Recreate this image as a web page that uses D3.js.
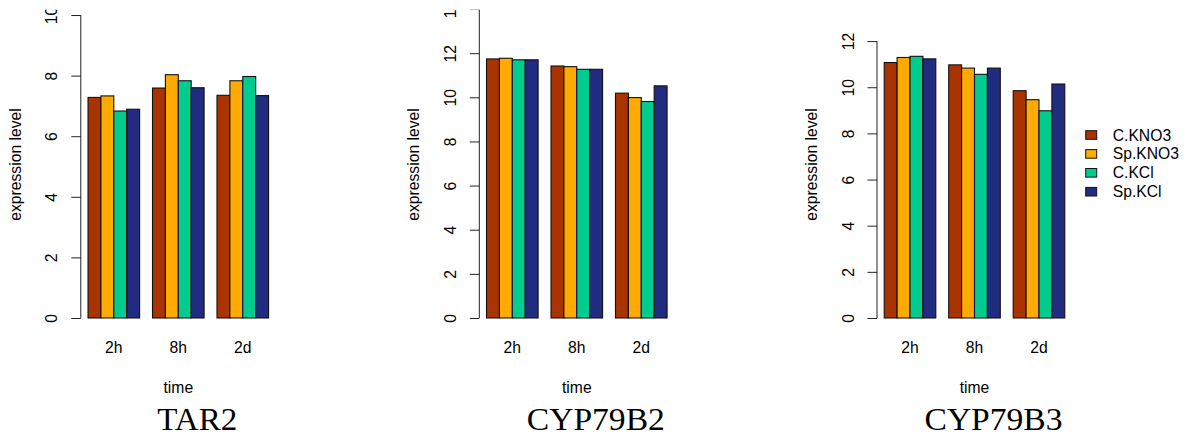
<!DOCTYPE html>
<html>
<head>
<meta charset="utf-8">
<script src="https://cdn.jsdelivr.net/npm/d3@7"></script>
<style>
  body { margin: 0; background: #fff; }
  text { font-family: "Liberation Sans", Arial, sans-serif; fill: #000; }
  .title { font-family: "Liberation Serif", "Times New Roman", serif; }
</style>
</head>
<body>
<div id="chart"></div>
<script>
// data
var genes = ["TAR2", "CYP79B2", "CYP79B3"];
var times = ["2h", "8h", "2d"];
var conditions = ["C.KNO3", "Sp.KNO3", "C.KCl", "Sp.KCl"];
var colors = ["#a93400", "#ffaa00", "#00cc8f", "#212b80"];

// one row per time point, one value per condition
var tar2 = [[7.28, 7.33, 6.83, 6.89], [7.59, 8.03, 7.83, 7.60], [7.35, 7.83, 7.97, 7.34]];
var cyp79b2 = [[11.74, 11.77, 11.70, 11.70], [11.42, 11.39, 11.27, 11.27], [10.19, 9.99, 9.81, 10.52]];
var cyp79b3 = [[11.07, 11.29, 11.34, 11.23], [10.97, 10.83, 10.56, 10.83], [9.85, 9.46, 8.98, 10.14]];
var yLimits = [10, 13.73, 13.13];

var geneValues = [tar2, cyp79b2, cyp79b3];

//Setup chart area
var svgWidth = 1187;
var svgHeight = 441;
var plotLefts = [80.8, 479.3, 877.0];
var plotWidth = 195;
var plotTop = 2.9;
var plotBottom = 330.1;
var fontSize = 15.7;

var svg = d3.select("#chart")
  .append("svg")
  .attr("width", svgWidth)
  .attr("height", svgHeight);

// labels get cut at the top of the figure region
svg.append("defs")
  .append("clipPath")
  .attr("id", "figClip")
  .append("rect")
  .attr("x", 0)
  .attr("y", 9.8)
  .attr("width", svgWidth)
  .attr("height", svgHeight);

genes.forEach(function(gene, p) {
  var left = plotLefts[p];
  var M = yLimits[p];
  var data = geneValues[p];

  var g = svg.append("g");

  // x scales: groups then bars inside a group (like barplot beside=TRUE)
  var x0 = d3.scaleBand()
    .domain(times)
    .range([left, left + plotWidth])
    .paddingInner(0.2)
    .paddingOuter(0.112);

  var x1 = d3.scaleBand()
    .domain(conditions)
    .range([0, x0.bandwidth()]);

  // y scale with R's 4% extension
  var y = d3.scaleLinear()
    .domain([-0.04 * M, 1.04 * M])
    .range([plotBottom, plotTop]);

  var yTicks = d3.range(0, 1.04 * M + 1e-9, 2);

  // bars
  var groups = g.selectAll(".grp")
    .data(data)
    .enter()
    .append("g")
    .attr("transform", (d, i) => `translate(${x0(times[i])},0)`);

  groups.selectAll("rect")
    .data(d => d)
    .enter()
    .append("rect")
    .attr("x", (d, i) => x1(conditions[i]))
    .attr("y", d => y(d))
    .attr("width", x1.bandwidth())
    .attr("height", d => y(0) - y(d))
    .attr("fill", (d, i) => colors[i])
    .attr("stroke", "#111")
    .attr("stroke-width", 1.1);

  // y axis (inside an untransformed clip group)
  var axisLeft = d3.axisLeft(y)
    .tickValues(yTicks)
    .tickSize(9.5)
    .tickFormat(d3.format("d"));

  var yAxis = g.append("g")
    .attr("clip-path", "url(#figClip)")
    .append("g")
    .attr("transform", `translate(${left},0)`)
    .call(axisLeft);

  yAxis.select(".domain")
    .attr("d", `M0,${y(0)}V${y(yTicks[yTicks.length - 1])}`)
    .attr("stroke", "#222");
  yAxis.selectAll(".tick line").attr("stroke", "#222");
  yAxis.selectAll(".tick text")
    .attr("x", null)
    .attr("dy", null)
    .attr("transform", "translate(-23.5,0) rotate(-90)")
    .attr("text-anchor", "middle")
    .style("font-family", "Liberation Sans, Arial, sans-serif")
    .style("font-size", fontSize + "px");

  // x axis: labels only
  var bottomAxis = d3.axisBottom(x0).tickSize(0);
  var xAxis = g.append("g")
    .attr("transform", `translate(0,${plotBottom})`)
    .call(bottomAxis);
  xAxis.select(".domain").remove();
  xAxis.selectAll(".tick text")
    .attr("y", 353 - plotBottom)
    .attr("dy", null)
    .style("font-family", "Liberation Sans, Arial, sans-serif")
    .style("font-size", fontSize + "px");

  // axis titles
  g.append("text")
    .attr("x", left + plotWidth / 2)
    .attr("y", 393)
    .attr("text-anchor", "middle")
    .style("font-size", fontSize + "px")
    .text("time");

  g.append("text")
    .attr("transform", `translate(${left - 60.3},${(plotTop + plotBottom) / 2 - 2}) rotate(-90)`)
    .attr("text-anchor", "middle")
    .style("font-size", fontSize + "px")
    .text("expression level");

  // gene title
  g.append("text")
    .attr("class", "title")
    .attr("x", left + 116.5)
    .attr("y", 430)
    .attr("text-anchor", "middle")
    .style("font-size", "31px")
    .attr("textLength", gene.length > 4 ? 138 : 80)
    .attr("lengthAdjust", "spacingAndGlyphs")
    .text(gene);
});

// legend
var legend = svg.append("g")
  .attr("transform", "translate(1085.7,135)");

var legendRows = legend.selectAll("g")
  .data(conditions)
  .enter()
  .append("g")
  .attr("transform", (d, i) => `translate(0,${i * 18.9})`);

legendRows.append("rect")
  .attr("x", 0)
  .attr("y", -4.3)
  .attr("width", 11)
  .attr("height", 8.6)
  .attr("fill", (d, i) => colors[i])
  .attr("stroke", "#111")
  .attr("stroke-width", 1);

legendRows.append("text")
  .attr("x", 27)
  .attr("y", 5.5)
  .style("font-size", fontSize + "px")
  .text(d => d);
</script>
</body>
</html>
